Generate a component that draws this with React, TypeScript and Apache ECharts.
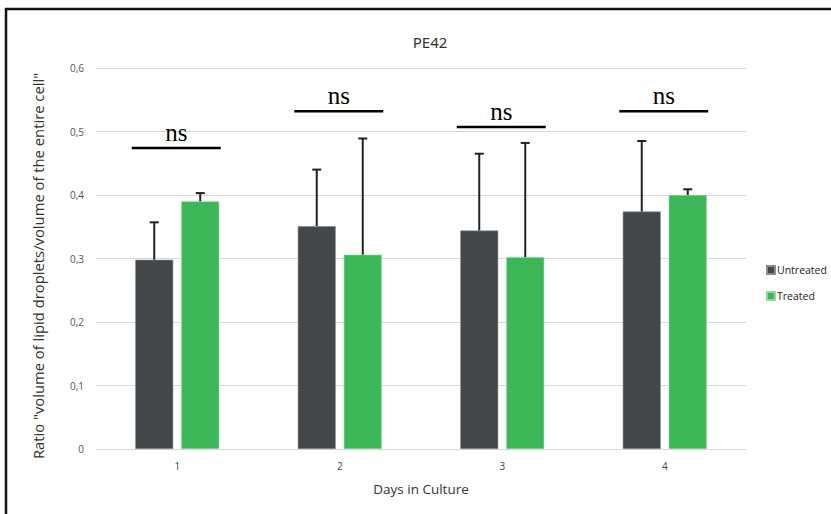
import React, { useEffect, useRef } from "react";
import * as echarts from "echarts";

const categories = ["1", "2", "3", "4"];
const untreated = [0.298, 0.351, 0.344, 0.374];
const untreatedErrTop = [0.357, 0.44, 0.465, 0.485];
const treated = [0.39, 0.306, 0.302, 0.4];
const treatedErrTop = [0.403, 0.489, 0.482, 0.409];
const nsLevels = [0.474, 0.532, 0.507, 0.532];
const nsLabels = ["ns", "ns", "ns", "ns"];

const BAR_W = 38;
const BAR_GAP = 8;
const OFFSET = (BAR_W + BAR_GAP) / 2;

function errorSeries(values: number[], tops: number[], dir: number) {
  return {
    type: "custom",
    silent: true,
    z: 5,
    data: values.map((v, i) => [i, v, tops[i]]),
    renderItem: (params: any, api: any) => {
      const base = api.coord([api.value(0), api.value(1)]);
      const top = api.coord([api.value(0), api.value(2)]);
      const x = base[0] + dir * OFFSET;
      return {
        type: "group",
        children: [
          { type: "line", shape: { x1: x, y1: base[1], x2: x, y2: top[1] }, style: { stroke: "#222", lineWidth: 2 } },
          { type: "line", shape: { x1: x - 4.5, y1: top[1], x2: x + 4.5, y2: top[1] }, style: { stroke: "#222", lineWidth: 2 } },
        ],
      };
    },
  };
}

export default function App() {
  const ref = useRef<HTMLDivElement>(null);
  useEffect(() => {
    document.body.style.margin = "0";
    const chart = echarts.init(ref.current!, null, { renderer: "svg" });
    chart.setOption({
      animation: false,
      backgroundColor: "#fff",
      title: {
        text: "PE42",
        left: 425,
        top: 29,
        textAlign: "center",
        textStyle: { fontFamily: "Noto Sans", fontSize: 15, fontWeight: "normal", color: "#333" },
      },
      legend: {
        orient: "vertical",
        left: 761,
        top: 258,
        itemWidth: 8,
        itemHeight: 8,
        itemGap: 12,
        icon: "rect",
        data: ["Untreated", "Treated"],
        textStyle: { fontFamily: "Open Sans", fontSize: 10.5, color: "#222", padding: [0, 0, 0, -3], lineHeight: 14 },
      },
      grid: { left: 96, right: 85, top: 68, bottom: 65 },
      xAxis: {
        type: "category",
        data: categories,
        axisLine: { lineStyle: { color: "#d9d9d9", width: 1 } },
        axisTick: { show: false },
        axisLabel: { fontFamily: "Open Sans", fontSize: 10, color: "#444", margin: 12 },
        name: "Days in Culture",
        nameLocation: "middle",
        nameGap: 33,
        nameTextStyle: { fontFamily: "Open Sans", fontSize: 13.5, color: "#333" },
      },
      yAxis: {
        type: "value",
        min: 0,
        max: 0.6,
        interval: 0.1,
        axisLine: { show: false },
        axisTick: { show: false },
        splitLine: { lineStyle: { color: "#d9d9d9", width: 1 } },
        axisLabel: {
          fontFamily: "Open Sans",
          fontSize: 10,
          color: "#555",
          margin: 12,
          formatter: (v: number) => (v === 0 ? "0" : v.toFixed(1).replace(".", ",")),
        },
      },
      graphic: [
        {
          type: "rect",
          shape: { x: 6, y: 9, width: 900, height: 600 },
          style: { fill: "none", stroke: "#111", lineWidth: 2.5 },
          silent: true,
        },
        {
          type: "text",
          x: 38,
          y: 266,
          rotation: Math.PI / 2,
          style: {
            text: 'Ratio "volume of lipid droplets/volume of the entire cell"',
            fontFamily: "Open Sans",
            fontSize: 14.8,
            fill: "#333",
            textAlign: "center",
            textVerticalAlign: "middle",
          },
        },
      ],
      series: [
        {
          name: "Untreated",
          type: "bar",
          data: untreated,
          barWidth: BAR_W,
          barGap: (BAR_GAP / BAR_W) * 100 + "%",
          itemStyle: { color: "#43474a", borderColor: "#8a8c8e", borderWidth: 0.6 },
        },
        {
          name: "Treated",
          type: "bar",
          data: treated,
          barWidth: BAR_W,
          itemStyle: { color: "#3bb758", borderColor: "#8fd6a0", borderWidth: 0.6 },
        },
        errorSeries(untreated, untreatedErrTop, -1),
        errorSeries(treated, treatedErrTop, 1),
        {
          type: "custom",
          silent: true,
          z: 6,
          data: nsLevels.map((v, i) => [i, v, nsLabels[i]]),
          renderItem: (params: any, api: any) => {
            const p = api.coord([api.value(0), api.value(1)]);
            const cx = p[0] - 1;
            return {
              type: "group",
              children: [
                { type: "line", shape: { x1: cx - 44.5, y1: p[1], x2: cx + 44.5, y2: p[1] }, style: { stroke: "#000", lineWidth: 2.5 } },
                {
                  type: "text",
                  x: cx,
                  y: p[1] - 16,
                  style: {
                    text: nsLabels[params.dataIndex],
                    fontFamily: "Liberation Serif",
                    fontSize: 25,
                    fill: "#000",
                    textAlign: "center",
                    textVerticalAlign: "middle",
                  },
                },
              ],
            };
          },
        },
      ],
    });
    return () => chart.dispose();
  }, []);
  return <div ref={ref} style={{ width: 831, height: 514 }} />;
}
